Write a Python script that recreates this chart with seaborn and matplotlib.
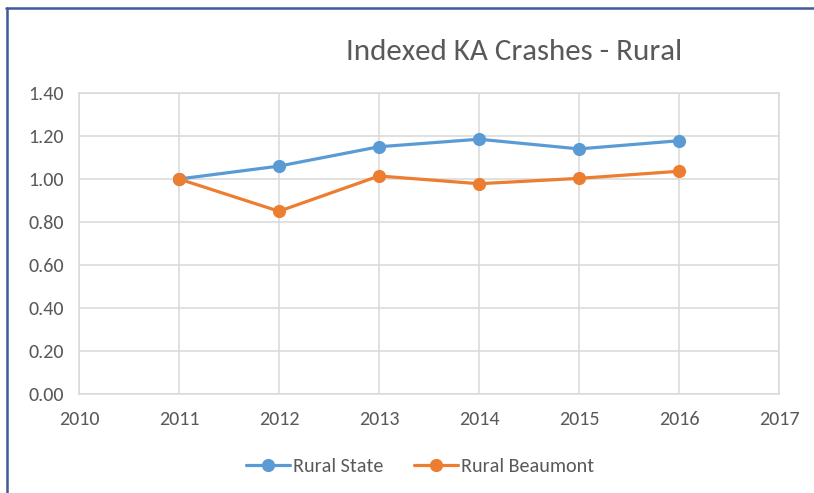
import matplotlib
matplotlib.use("Agg")
import matplotlib.pyplot as plt
import seaborn as sns
import pandas as pd

######## DATA ########
years = [2011, 2012, 2013, 2014, 2015, 2016]
rural_state = [1.00, 1.06, 1.15, 1.185, 1.14, 1.178]
rural_beaumont = [1.00, 0.85, 1.014, 0.978, 1.003, 1.036]
series_names = ["Rural State", "Rural Beaumont"]
colors = ["#5b9bd5", "#ed7d31"]
x_ticks = list(range(2010, 2018))
y_ticks = [0.0, 0.2, 0.4, 0.6, 0.8, 1.0, 1.2, 1.4]

df = pd.DataFrame({
    "year": years * 2,
    "value": rural_state + rural_beaumont,
    "series": [series_names[0]] * len(years) + [series_names[1]] * len(years),
})

sns.set_style("white")
plt.rcParams["font.family"] = ["Carlito", "DejaVu Sans"]
grey = "#595959"

fig = plt.figure(figsize=(8.14, 4.93), dpi=100)
ax = fig.add_axes([79 / 814, 1 - 394 / 493, 700 / 814, 301 / 493])

sns.lineplot(data=df, x="year", y="value", hue="series", palette=colors,
             marker="o", markersize=9.5, markeredgewidth=0, linewidth=2.3,
             ax=ax, legend=True)

ax.set_xlim(2010, 2017)
ax.set_ylim(0, 1.4)
ax.set_xticks(x_ticks)
ax.set_yticks(y_ticks)
ax.set_yticklabels([f"{v:.2f}" for v in y_ticks])
ax.grid(True, color="#d9d9d9", linewidth=1.1)
ax.set_axisbelow(True)
for s in ax.spines.values():
    s.set_color("#d9d9d9")
    s.set_linewidth(1.1)
ax.tick_params(axis="both", length=0, labelsize=14.5, labelcolor=grey)
ax.tick_params(axis="x", pad=12)
ax.tick_params(axis="y", pad=11)
ax.set_xlabel("")
ax.set_ylabel("")

handles, labels = ax.get_legend_handles_labels()
ax.get_legend().remove()
leg = fig.legend(handles, labels, loc="center", bbox_to_anchor=(420 / 814, 1 - 466 / 493),
                 ncol=2, frameon=False, fontsize=14.5, handlelength=2.2,
                 handletextpad=0.15, columnspacing=1.5)
for t in leg.get_texts():
    t.set_color(grey)

fig.text(514 / 814, 1 - 60 / 493, "Indexed KA Crashes - Rural",
         ha="center", va="baseline", fontsize=22.3, color=grey)

# excel chart frame (top and left edges)
fig.add_artist(plt.Line2D([6 / 814, 1], [1 - 7.5 / 493, 1 - 7.5 / 493],
                          color="#3f5b9c", linewidth=1.8, transform=fig.transFigure))
fig.add_artist(plt.Line2D([6.5 / 814, 6.5 / 814], [0, 1 - 7.5 / 493],
                          color="#3f5b9c", linewidth=1.8, transform=fig.transFigure))

fig.savefig("out.png", dpi=100)
